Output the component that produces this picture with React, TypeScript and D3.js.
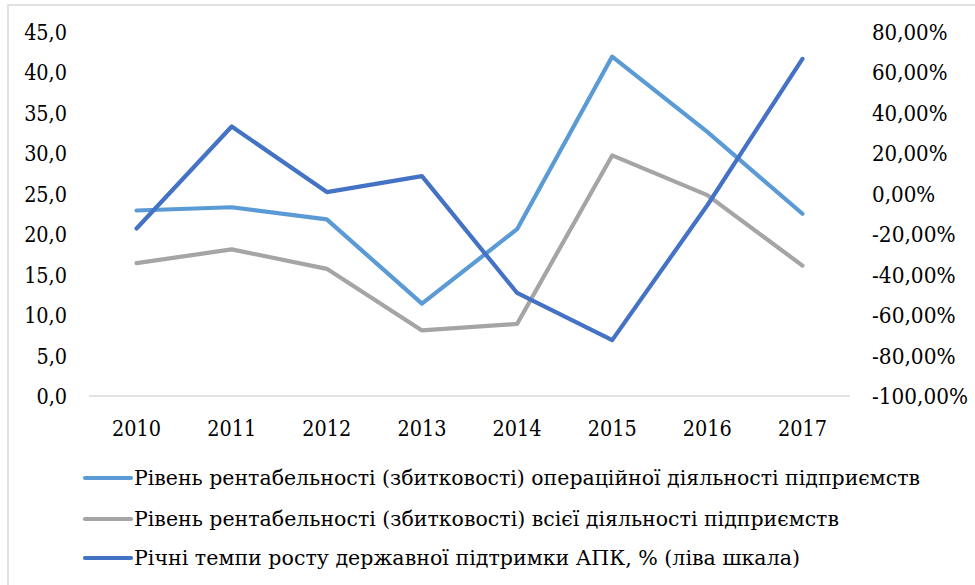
import React from "react";
import * as d3 from "d3";

const years = ["2010", "2011", "2012", "2013", "2014", "2015", "2016", "2017"];
const operational = [22.9, 23.3, 21.8, 11.4, 20.6, 41.9, 32.6, 22.5];
const overall = [16.4, 18.1, 15.7, 8.1, 8.9, 29.7, 24.8, 16.1];
const supportGrowth = [-17.3, 33.1, 0.7, 8.6, -49.1, -72.4, -5.8, 66.5];

const leftTicks = [0, 5, 10, 15, 20, 25, 30, 35, 40, 45];
const rightTicks = [-100, -80, -60, -40, -20, 0, 20, 40, 60, 80];

const legendNames = [
  "Рівень рентабельності (збитковості) операційної діяльності підприємств",
  "Рівень рентабельності (збитковості) всієї діяльності підприємств",
  "Річні темпи росту державної підтримки АПК, % (ліва шкала)",
];
const legendWidths = [786, 705, 666];
const colors = ["#5B9BD5", "#A5A5A5", "#4472C4"];

const W = 975;
const H = 585;
const plot = { left: 89, right: 850, top: 31.5, bottom: 396 };
const font = "DejaVu Serif";
const tickSize = 24.5;

// width the label would have in a Times-like face
const timesWidth = (s: string, size: number) =>
  size *
  s.split("").reduce((w, c) => w + (c === "," ? 0.25 : c === "%" ? 0.833 : c === "-" ? 0.333 : 0.5), 0);

export default function App() {
  const x = d3.scaleBand<string>().domain(years).range([plot.left, plot.right]);
  const yL = d3.scaleLinear().domain([0, 45]).range([plot.bottom, plot.top]);
  const yR = d3.scaleLinear().domain([-100, 80]).range([plot.bottom, plot.top]);
  const cx = (y: string) => (x(y) as number) + x.bandwidth() / 2;

  const lineL = d3.line<number>().x((_, i) => cx(years[i])).y((d) => yL(d));
  const lineR = d3.line<number>().x((_, i) => cx(years[i])).y((d) => yR(d));

  const fmt1 = (v: number) => v.toFixed(1).replace(".", ",");
  const fmtP = (v: number) => v.toFixed(2).replace(".", ",") + "%";

  const paths = [lineL(operational), lineL(overall), lineR(supportGrowth)];
  const legendY = [478, 519, 558];

  return (
    <svg width={W} height={H} style={{ position: "absolute", left: 0, top: 0, background: "#fff" }}>
      <rect x={8} y={5} width={W} height={H} fill="#fff" stroke="#D9D9D9" strokeWidth={1.5} />
      <line x1={plot.left} x2={plot.right} y1={plot.bottom} y2={plot.bottom} stroke="#D9D9D9" strokeWidth={1.5} />
      <g fontFamily={font} fontSize={23} fill="#000">
        {leftTicks.map((t) => (
          <text key={"l" + t} x={67} y={yL(t)} textAnchor="end" dominantBaseline="central"
            textLength={timesWidth(fmt1(t), tickSize)} lengthAdjust="spacingAndGlyphs">
            {fmt1(t)}
          </text>
        ))}
        {rightTicks.map((t) => (
          <text key={"r" + t} x={872} y={yR(t)} textAnchor="start" dominantBaseline="central"
            textLength={timesWidth(fmtP(t), tickSize)} lengthAdjust="spacingAndGlyphs">
            {fmtP(t)}
          </text>
        ))}
        {years.map((yr) => (
          <text key={yr} x={cx(yr)} y={428} textAnchor="middle" dominantBaseline="central"
            textLength={timesWidth(yr, tickSize)} lengthAdjust="spacingAndGlyphs">
            {yr}
          </text>
        ))}
      </g>
      {paths.map((d, i) => (
        <path key={i} d={d || ""} fill="none" stroke={colors[i]} strokeWidth={4.2} strokeLinejoin="round" strokeLinecap="round" />
      ))}
      <g fontFamily={font} fontSize={20} fill="#000">
        {legendNames.map((n, i) => (
          <g key={n}>
            <line x1={85} x2={131} y1={legendY[i]} y2={legendY[i]} stroke={colors[i]} strokeWidth={4.2} strokeLinecap="round" />
            <text x={134} y={legendY[i]} dominantBaseline="central" textLength={legendWidths[i]} lengthAdjust="spacingAndGlyphs">
              {n}
            </text>
          </g>
        ))}
      </g>
    </svg>
  );
}
